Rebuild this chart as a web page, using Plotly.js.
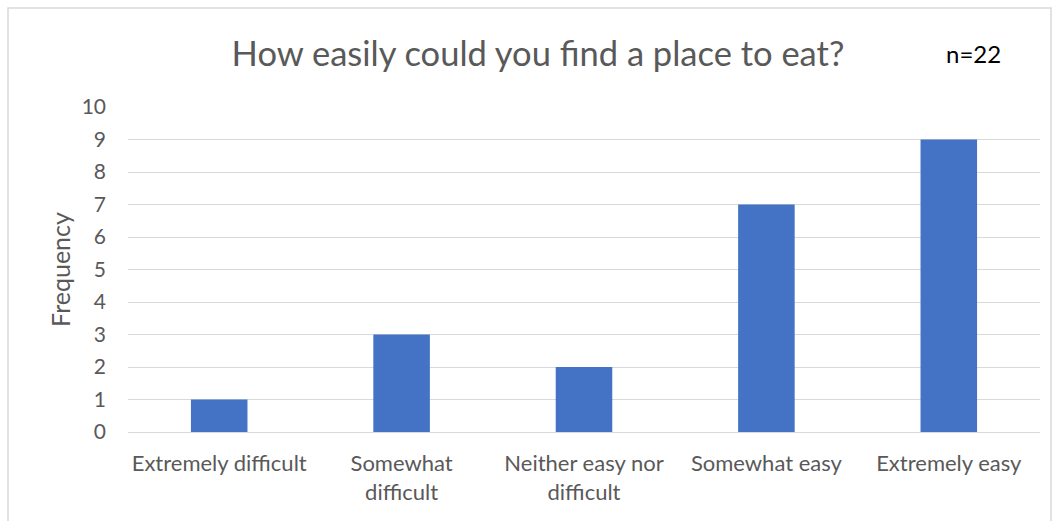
<!DOCTYPE html>
<html>
<head>
<meta charset="utf-8">
<script src="https://cdn.plot.ly/plotly-3.0.1.min.js"></script>
<style>html,body{margin:0;padding:0;background:#fff;}#chart{width:1059px;height:521px;}</style>
</head>
<body>
<div id="chart"></div>
<script>
const categories = ["Extremely difficult", "Somewhat<br>difficult", "Neither easy nor<br>difficult", "Somewhat easy", "Extremely easy"];
const frequency = [1, 3, 2, 7, 9];
const yTicks = [0, 1, 2, 3, 4, 5, 6, 7, 8, 9, 10];

const FONT = "Lato, 'Open Sans', sans-serif";
const trace = {
  type: 'bar',
  x: categories,
  y: frequency,
  marker: {color: '#4472C4'},
  hoverinfo: 'x+y'
};
const layout = {
  width: 1059, height: 521,
  margin: {l: 128, r: 19, t: 107, b: 89},
  paper_bgcolor: '#ffffff', plot_bgcolor: '#ffffff',
  bargap: 0.69,
  showlegend: false,
  font: {family: FONT, color: '#595959', size: 22},
  title: {text: 'How easily could you find a place to eat?', x: 0.508, xanchor: 'center', y: 0.896, yanchor: 'middle', font: {family: FONT, size: 34.5, color: '#595959'}},
  xaxis: {
    type: 'category', showgrid: false, zeroline: false, showline: false,
    ticks: '', ticklabelstandoff: 16,
    tickfont: {family: FONT, size: 22, color: '#595959'}
  },
  yaxis: {
    range: [0, 10], tickvals: yTicks, ticktext: yTicks.map(String),
    showgrid: true, gridcolor: '#d9d9d9', gridwidth: 1,
    zeroline: true, zerolinecolor: '#d9d9d9', zerolinewidth: 1,
    showline: false, ticks: '', ticklabelstandoff: 21,
    tickfont: {family: FONT, size: 21, color: '#595959'},
    title: {text: 'Frequency', standoff: 3, font: {family: FONT, size: 25, color: '#595959'}}
  },
  annotations: [{
    text: 'n=22', xref: 'paper', yref: 'paper', x: (973 - 128) / 912, y: (432 - 54) / 325,
    xanchor: 'center', yanchor: 'middle', showarrow: false,
    font: {family: FONT, size: 24, color: '#000000'}
  }],
  shapes: [{
    type: 'rect', xref: 'paper', yref: 'paper',
    x0: (8 - 128) / 912, x1: (1051 - 128) / 912,
    y0: (432 - 540) / 325, y1: (432 - 8) / 325,
    line: {color: '#d9d9d9', width: 1.5}, fillcolor: 'rgba(0,0,0,0)', layer: 'below'
  }]
};
Plotly.newPlot('chart', [trace], layout, {displayModeBar: false, staticPlot: true});
</script>
</body>
</html>
